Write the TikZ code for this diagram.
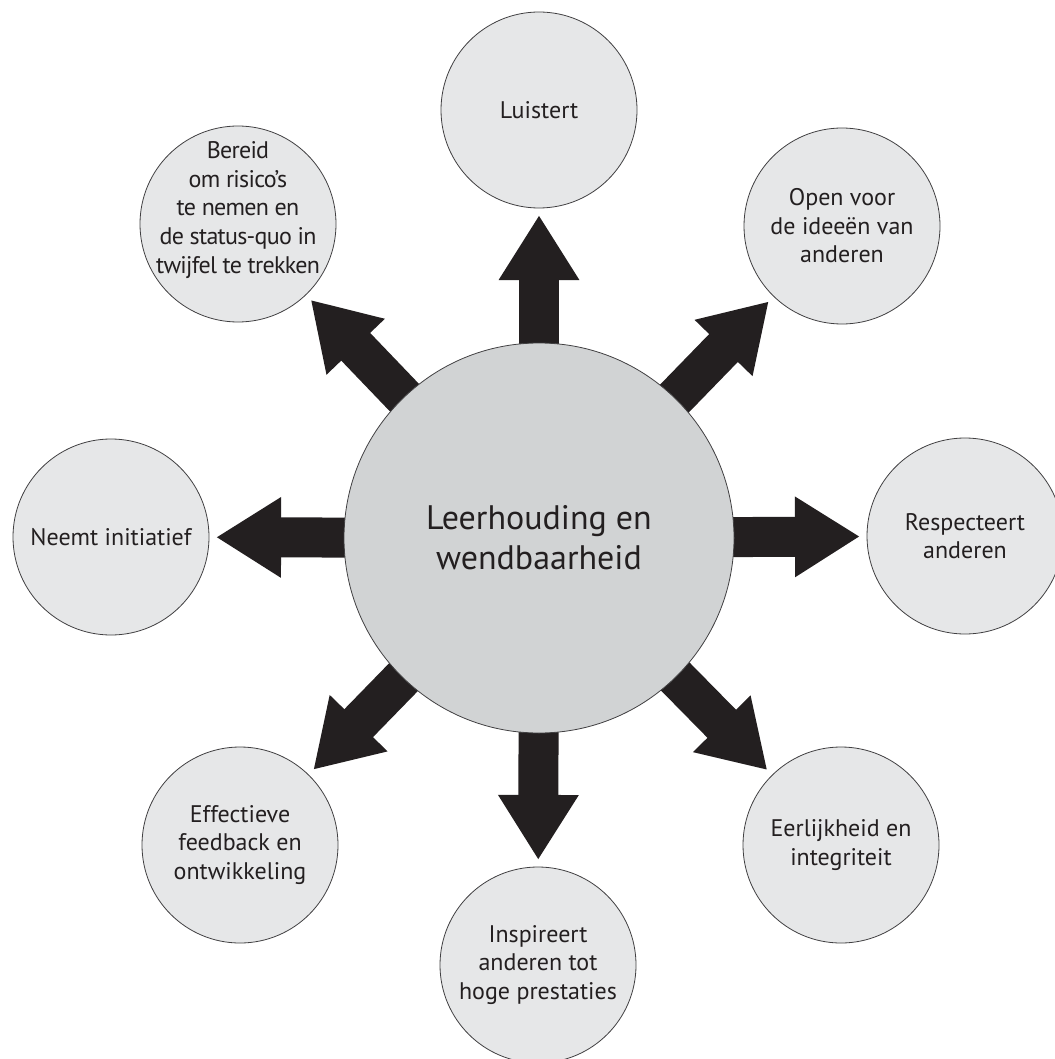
\documentclass[tikz,border=0pt]{standalone}
\usepackage{fontspec}
\setmainfont{PT Sans}
\newfontfamily\tightfont[LetterSpace=-3]{PT Sans}
\usetikzlibrary{arrows.meta,backgrounds}
\definecolor{ink}{RGB}{35,31,32}
\definecolor{hubfill}{RGB}{209,211,212}
\definecolor{leaffill}{RGB}{230,231,232}
\definecolor{rim}{RGB}{65,64,66}
\begin{document}
\begin{tikzpicture}[x=0.75pt,y=-0.75pt,
  hub/.style={circle, draw=rim, line width=0.6pt, fill=hubfill,
    minimum size=292.5pt, inner sep=0pt, align=center, text=ink,
    font=\fontsize{25.5}{30}\selectfont},
  leaf/.style={circle, draw=rim, line width=0.6pt, fill=leaffill,
    minimum size=147pt, inner sep=0pt, align=center, text=ink,
    font=\fontsize{18}{21.4}\selectfont},
  leaftext/.style={align=center, text=ink, inner sep=0pt,
    font=\tightfont\fontsize{18}{21.4}\selectfont},
  spoke/.style={draw=ink, line width=30pt,
    -{Triangle[width=57pt,length=48.75pt]},
    shorten <=-20pt, shorten >=5pt}]
\useasboundingbox (0,0) rectangle (1054,1059);

% centre and surrounding circles
\node[hub] (hub) at (539,538) {Leerhouding en\\wendbaarheid};
\node[leaf] (n)  at (539,110) {Luistert};
\node[leaf] (ne) at (842,226) {Open voor\\de ideeën van\\anderen};
\node[leaf] (e)  at (965,536) {Respecteert\\anderen};
\node[leaf] (se) at (841,845) {Eerlijkheid en\\integriteit};
\node[leaf] (s)  at (538,965) {Inspireert\\anderen tot\\hoge prestaties};
\node[leaf] (sw) at (240,845) {Effectieve\\feedback en\\ontwikkeling};
\node[leaf] (w)  at (111,537) {Neemt initiatief};
\node[leaf] (nw) at (238,224) {};
\node[leaftext] (nwtext) at (238,210)
  {Bereid\\om risico’s\\te nemen en\\de status-quo in\\twijfel te trekken};

% block arrows from the centre outwards, behind the circles
\begin{scope}[on background layer]
  \foreach \t in {n,ne,e,se,s,sw,w,nw}
    \draw[spoke] (hub) -- (\t);
\end{scope}
\end{tikzpicture}
\end{document}
